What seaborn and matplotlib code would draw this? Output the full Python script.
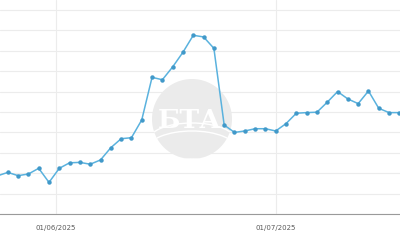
import numpy as np
import pandas as pd
import matplotlib
matplotlib.use("Agg")
import matplotlib.pyplot as plt
import seaborn as sns
from matplotlib.patches import Ellipse, Arc

# ---- data ----
start_date = "2025-05-23"
end_date = "2025-07-18"
values = [1.87, 2.04, 1.88, 1.96, 2.24, 1.55, 2.24, 2.51, 2.53, 2.44,
          2.65, 3.25, 3.69, 3.74, 4.61, 6.70, 6.58, 7.21, 7.93, 8.76,
          8.68, 8.12, 4.36, 4.00, 4.07, 4.18, 4.18, 4.07, 4.43, 4.94,
          4.97, 4.99, 5.48, 6.00, 5.64, 5.41, 6.03, 5.18, 4.97, 4.97, 4.97]
tick_dates = ["2025-06-01", "2025-07-01"]
tick_labels = ["01/06/2025", "01/07/2025"]
y_grid = list(range(0, 11))

dates = pd.bdate_range(start_date, end_date)
df = pd.DataFrame({"idx": np.arange(len(dates)), "value": values})

sns.set_theme(style="white")
fig = plt.figure(figsize=(4, 2.4), dpi=100)
ax = fig.add_axes([0, 26 / 240, 1, 214 / 240])

line_color = "#5ab2de"
sns.lineplot(data=df, x="idx", y="value", ax=ax, color=line_color,
             linewidth=1.1, marker="o", markersize=3.2,
             markeredgewidth=0, markerfacecolor="#4199c9", zorder=3)

# tick positions by interpolating dates onto the index scale
d_ord = np.array([d.toordinal() for d in dates])
t_ord = [pd.Timestamp(t).toordinal() for t in tick_dates]
tick_pos = np.interp(t_ord, d_ord, df["idx"].to_numpy())

ax.set_xlim(0.2455, 39.06)
ax.set_ylim(0, 10.49)
ax.set_yticks(y_grid)
ax.set_xticks(tick_pos)
ax.set_xticklabels(tick_labels, fontsize=5, color="#5a5a5a")
ax.tick_params(axis="x", length=4, width=0.8, color="#888888", pad=4, direction="out")
ax.tick_params(axis="y", length=0, labelleft=False)
ax.grid(True, color="#ececec", linewidth=0.8, zorder=0)
ax.set_axisbelow(True)
ax.set_xlabel("")
ax.set_ylabel("")
for s in ["top", "right", "left"]:
    ax.spines[s].set_visible(False)
ax.spines["bottom"].set_color("#9a9a9a")
ax.spines["bottom"].set_linewidth(0.8)

# watermark (faint logo)
cx, cy, r = 192 / 400, 1 - 119 / 240, 40
wm = Ellipse((cx, cy), 2 * r / 400, 2 * r / 240,
             transform=fig.transFigure, facecolor="#ebebeb", edgecolor="none",
             zorder=1.5, clip_on=False)
ax.add_patch(wm)
for dy, w in [(-26, 1.2), (22, 1.0), (30, 1.0)]:
    arc = Arc((cx, cy + dy / 240 * -1), 2.2 * r / 400, 0.9 * r / 240,
              theta1=0, theta2=180 if dy < 0 else 360,
              transform=fig.transFigure, color="white", lw=w, zorder=1.55)
    ax.add_patch(arc)
    arc.set_clip_path(wm)
t = ax.text(cx - 0.005, 1 - 121 / 240, "БТА", ha="center", va="center",
            fontsize=19, fontweight="bold", family="DejaVu Serif",
            color="white", zorder=1.6, transform=fig.transFigure)
t.set_clip_path(wm)

fig.savefig("out.png", dpi=100)
